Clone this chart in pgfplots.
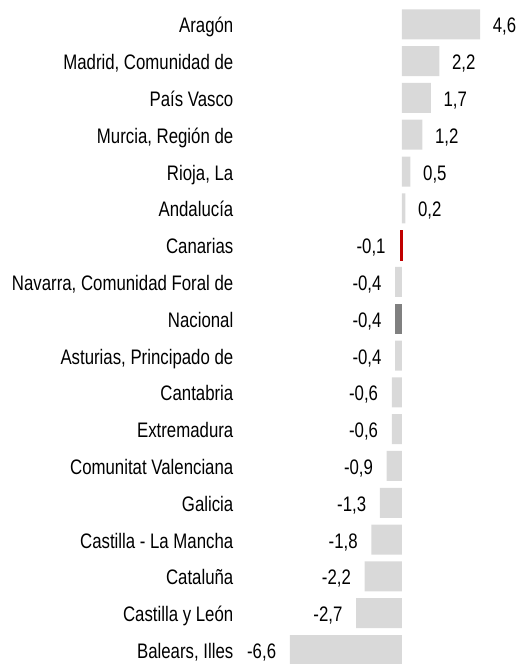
\documentclass[border=0pt]{standalone}
\usepackage{fontspec}
\setmainfont{Liberation Sans}[FakeStretch=0.80]
\usepackage{pgfplots}
\pgfplotsset{compat=1.18}
\definecolor{barg}{HTML}{D9D9D9}
\definecolor{nac}{HTML}{808080}
\definecolor{canred}{HTML}{C00000}
\begin{document}
\fontsize{21}{25}\selectfont
\begin{tikzpicture}
\begin{axis}[
  scale only axis, width=275pt, height=664pt,
  xmin=-9.53, xmax=6.65, ymin=-0.66, ymax=17.38, y dir=reverse,
  xbar, bar width=30pt, bar shift=0pt,
  axis line style={draw=none}, major tick length=0pt,
  xtick=\empty, ytick={0,...,17},
  yticklabels={Aragón,{Madrid, Comunidad de},País Vasco,{Murcia, Región de},{Rioja, La},Andalucía,Canarias,{Navarra, Comunidad Foral de},Nacional,{Asturias, Principado de},Cantabria,Extremadura,Comunitat Valenciana,Galicia,Castilla - La Mancha,Cataluña,Castilla y León,{Balears, Illes}},
  yticklabel style={anchor=base east, inner sep=0pt, xshift=-6.5pt, yshift=-8.5pt},
  clip=false,
  nodes near coords,
  nodes near coords style={/pgf/number format/fixed, /pgf/number format/fixed zerofill, /pgf/number format/precision=1, /pgf/number format/use comma, /pgf/number format/assume math mode=true},
]
\addplot[fill=barg, draw=none, every node near coord/.append style={anchor=base west, inner sep=0pt, xshift=12.5pt, yshift=-8.5pt, text=black}]
  coordinates {(4.6,0) (2.2,1) (1.7,2) (1.2,3) (0.5,4) (0.2,5)};
\addplot[fill=barg, draw=none, every node near coord/.append style={anchor=base east, inner sep=0pt, xshift=-13.5pt, yshift=-8.5pt, text=black}]
  coordinates {(-0.4,7) (-0.4,9) (-0.6,10) (-0.6,11) (-0.9,12) (-1.3,13) (-1.8,14) (-2.2,15) (-2.7,16) (-6.6,17)};
\addplot[fill=canred, draw=canred, line width=0.5pt, every node near coord/.append style={anchor=base east, inner sep=0pt, xshift=-14.5pt, yshift=-8.5pt, text=black}]
  coordinates {(-0.1,6)};
\addplot[fill=nac, draw=none, every node near coord/.append style={anchor=base east, inner sep=0pt, xshift=-13.5pt, yshift=-8.5pt, text=black}]
  coordinates {(-0.4,8)};
\coordinate (BL) at (rel axis cs:0,0);
\coordinate (TR) at (rel axis cs:1,1);
\end{axis}
\pgfresetboundingbox
\path (BL) ++(-240pt,0pt) rectangle (TR);
\end{tikzpicture}
\end{document}
